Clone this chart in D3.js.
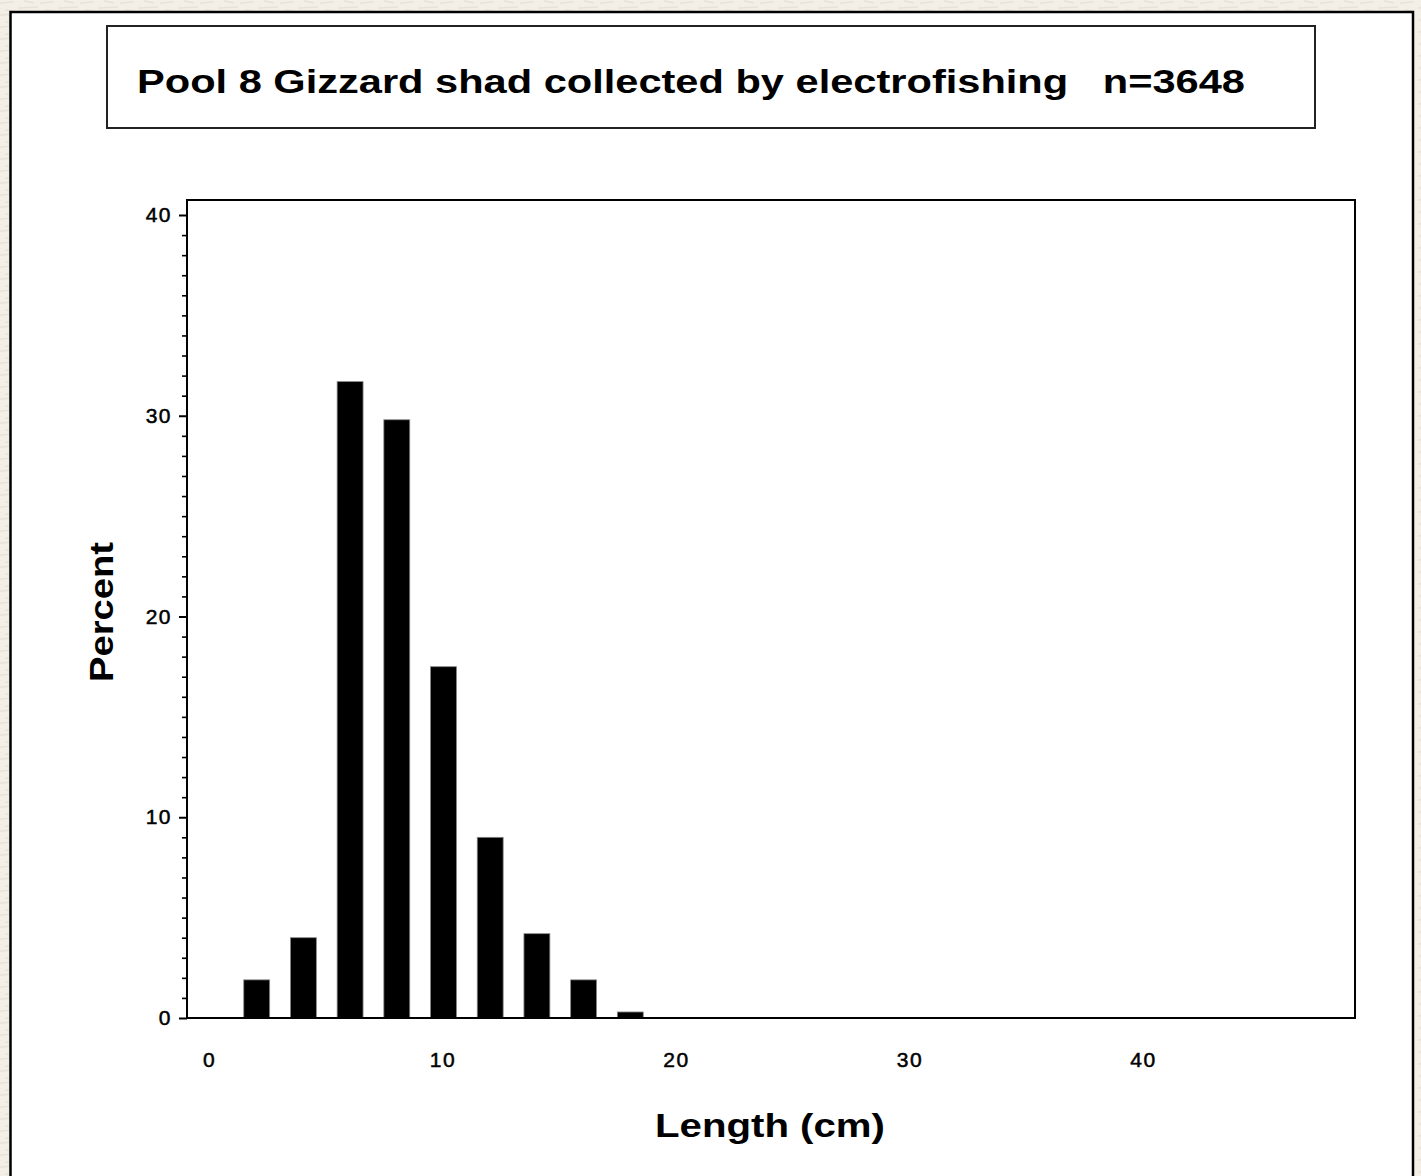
<!DOCTYPE html>
<html>
<head>
<meta charset="utf-8">
<script src="https://cdn.jsdelivr.net/npm/d3@7"></script>
<style>
  html, body { margin: 0; padding: 0; background: #f3efe7; }
  svg { display: block; }
</style>
</head>
<body>
<svg id="chart" width="1421" height="1176"></svg>
<script>
// Data
const titleText = "Pool 8 Gizzard shad collected by electrofishing   n=3648";
const lengthBins = [2, 4, 6, 8, 10, 12, 14, 16, 18];
const percentValues = [1.9, 4.0, 31.7, 29.8, 17.5, 9.0, 4.2, 1.9, 0.3];
const xTickValues = [0, 10, 20, 30, 40];
const yTickValues = [0, 10, 20, 30, 40];
const xLabel = "Length (cm)";
const yLabel = "Percent";

(function () {
const svg = d3.select("#chart");

// textured background
const defs = svg.append("defs");
const pat = defs.append("pattern").attr("id", "bgtex").attr("width", 40).attr("height", 12)
  .attr("patternUnits", "userSpaceOnUse");
pat.append("rect").attr("width", 40).attr("height", 12).attr("fill", "#f3efe7");
pat.append("path").attr("d", "M0,3 L14,2 M18,8 L38,7 M5,10 L12,11 M24,1 L34,3")
  .attr("stroke", "#e8e2d6").attr("stroke-width", 1.5).attr("fill", "none");
svg.append("rect").attr("width", 1421).attr("height", 1176).attr("fill", "url(#bgtex)");

// white panel
svg.append("rect").attr("x", 10.5).attr("y", 12).attr("width", 1402.5).attr("height", 1200)
  .attr("fill", "#fff").attr("stroke", "#000").attr("stroke-width", 2.5);

// title box
svg.append("rect").attr("x", 107).attr("y", 26).attr("width", 1208).attr("height", 102)
  .attr("fill", "#fff").attr("stroke", "#222").attr("stroke-width", 2);
svg.append("text").attr("x", 137).attr("y", 93)
  .attr("font-family", "Liberation Sans, Arial, sans-serif").attr("font-weight", "bold")
  .attr("font-size", 33).attr("textLength", 1108).attr("lengthAdjust", "spacingAndGlyphs")
  .attr("fill", "#000").style("white-space", "pre").text(titleText);

// plot area
const pLeft = 187, pRight = 1355, pTop = 200, pBottom = 1018;
const xPerUnit = (1143 - 209) / 40;
const x = d3.scaleLinear()
  .domain([(pLeft - 209) / xPerUnit, (pRight - 209) / xPerUnit])
  .range([pLeft, pRight]);
const yPerUnit = (1018 - 215) / 40;
const y = d3.scaleLinear()
  .domain([0, (pBottom - pTop) / yPerUnit])
  .range([pBottom, pTop]);

// bars
const barW = x(1.11) - x(0);
svg.append("g").selectAll("rect").data(lengthBins).join("rect")
  .attr("x", (d) => x(d) - barW / 2 + 1)
  .attr("width", barW)
  .attr("y", (d, i) => y(percentValues[i]))
  .attr("height", (d, i) => y(0) - y(percentValues[i]))
  .attr("fill", "#000")
  .attr("stroke", "#888").attr("stroke-width", 0.8);

// frame
svg.append("rect").attr("x", pLeft).attr("y", pTop).attr("width", pRight - pLeft).attr("height", pBottom - pTop)
  .attr("fill", "none").attr("stroke", "#000").attr("stroke-width", 2);

// y axis major
const yAxis = svg.append("g").attr("transform", `translate(${pLeft},0)`)
  .call(d3.axisLeft(y).tickValues(yTickValues).tickSize(8).tickPadding(7).tickFormat(d3.format("d")));
yAxis.select(".domain").remove();
yAxis.selectAll("line").attr("stroke", "#000").attr("stroke-width", 2);
yAxis.selectAll("text").attr("font-family", "Liberation Sans, Arial, sans-serif")
  .attr("font-size", 21).attr("letter-spacing", 1.5).attr("fill", "#000")
  .attr("stroke", "#000").attr("stroke-width", 0.5);

// y axis minor ticks
const minor = d3.range(0, 41).filter((v) => v % 10 !== 0);
const yMinor = svg.append("g").attr("transform", `translate(${pLeft},0)`)
  .call(d3.axisLeft(y).tickValues(minor).tickSize(5).tickFormat(""));
yMinor.select(".domain").remove();
yMinor.selectAll("line").attr("stroke", "#000").attr("stroke-width", 1.6);

// x axis labels (no tick marks)
const xAxis = svg.append("g").attr("transform", `translate(0,${pBottom})`)
  .call(d3.axisBottom(x).tickValues(xTickValues).tickSize(0).tickPadding(34).tickFormat(d3.format("d")));
xAxis.select(".domain").remove();
xAxis.selectAll("text").attr("font-family", "Liberation Sans, Arial, sans-serif")
  .attr("font-size", 21).attr("letter-spacing", 1.5).attr("fill", "#000")
  .attr("stroke", "#000").attr("stroke-width", 0.5);

// axis titles
svg.append("text").attr("x", 655).attr("y", 1137)
  .attr("font-family", "Liberation Sans, Arial, sans-serif").attr("font-weight", "bold")
  .attr("font-size", 33).attr("textLength", 230).attr("lengthAdjust", "spacingAndGlyphs")
  .style("white-space", "pre").text(xLabel);

svg.append("text").attr("transform", "translate(113,682) rotate(-90)")
  .attr("font-family", "Liberation Sans, Arial, sans-serif").attr("font-weight", "bold")
  .attr("font-size", 34).attr("textLength", 140).attr("lengthAdjust", "spacingAndGlyphs")
  .text(yLabel);
})();
</script>
</body>
</html>
